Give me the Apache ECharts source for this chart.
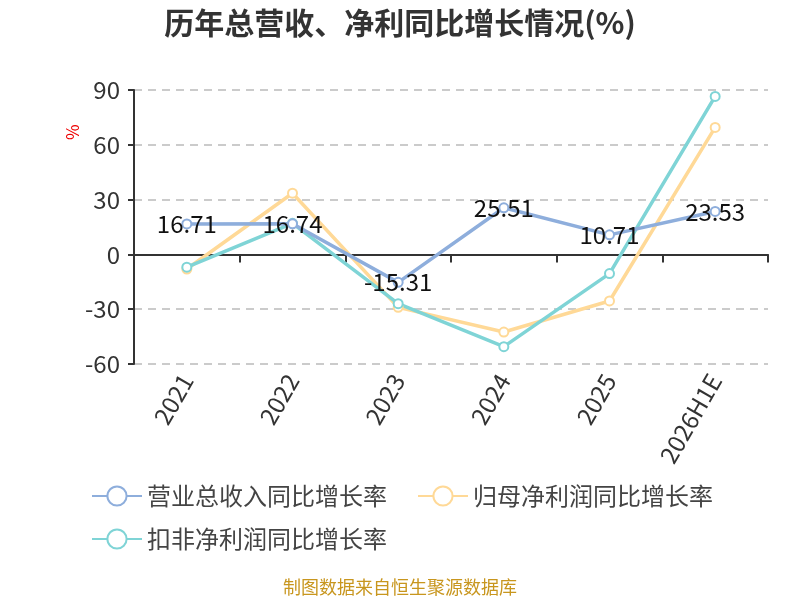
<!DOCTYPE html>
<html>
<head>
<meta charset="utf-8">
<script src="https://cdn.jsdelivr.net/npm/echarts@6/dist/echarts.min.js"></script>
<style>
  html, body { margin: 0; padding: 0; background: #fff; }
  #chart { width: 800px; height: 600px; }
</style>
</head>
<body>
<div id="chart"></div>
<script>
// 年份
var years = ['2021', '2022', '2023', '2024', '2025', '2026H1E'];
// 营业总收入同比增长率
var revenueGrowth = [16.71, 16.74, -15.31, 25.51, 10.71, 23.53];
// 归母净利润同比增长率
var netProfitGrowth = [-8, 33.5, -29, -42.5, -25.5, 69.5];
// 扣非净利润同比增长率
var deductedProfitGrowth = [-7, 17, -27, -50.5, -10.5, 86.5];
var yTicks = { min: -60, max: 90, interval: 30 };

var FONT = '"Noto Sans CJK SC", "Noto Sans", sans-serif';
var myChart = echarts.init(document.getElementById('chart'));

myChart.setOption({
    backgroundColor: '#fff',
    title: {
        text: '历年总营收、净利同比增长情况(%)',
        left: 'center',
        top: 3,
        textStyle: { fontSize: 30, fontWeight: 'bold', color: '#333', fontFamily: FONT }
    },
    graphic: [
        {
            type: 'text',
            left: 'center',
            top: 578,
            style: { text: '制图数据来自恒生聚源数据库', fontSize: 18, fill: '#c8961e', fontFamily: FONT }
        },
        {
            // 纵轴单位
            type: 'text',
            x: 64,
            y: 140,
            rotation: Math.PI / 2,
            style: { text: '%', fontSize: 17, fill: '#e00', fontFamily: FONT }
        }
    ],
    legend: {
        left: 86,
        top: 479,
        width: 660,
        itemWidth: 50,
        itemHeight: 24,
        itemGap: 19,
        textStyle: { fontSize: 24, lineHeight: 24, color: '#444', fontFamily: FONT, padding: [0, 11, 0, 0] },
        data: ['营业总收入同比增长率', '归母净利润同比增长率', '扣非净利润同比增长率']
    },
    grid: { left: 134, right: 32, top: 90, bottom: 236 },
    xAxis: {
        type: 'category',
        data: years,
        boundaryGap: true,
        axisLine: { onZero: true, lineStyle: { color: '#333', width: 2 } },
        axisTick: { show: true, length: 8, lineStyle: { color: '#333', width: 2 } },
        axisLabel: { rotate: 60, fontSize: 24, color: '#333', margin: 12, fontFamily: FONT }
    },
    yAxis: {
        type: 'value',
        min: yTicks.min,
        max: yTicks.max,
        interval: yTicks.interval,
        axisLine: { show: true, lineStyle: { color: '#333', width: 2 } },
        axisTick: { show: true, length: 6, lineStyle: { color: '#333', width: 2 } },
        axisLabel: { fontSize: 24, color: '#333', fontFamily: FONT, margin: 14 },
        splitLine: { lineStyle: { type: [8, 6], color: '#bbb', width: 1.5 } }
    },
    series: [
        {
            name: '营业总收入同比增长率',
            type: 'line',
            data: revenueGrowth,
            symbol: 'emptyCircle',
            symbolSize: 9,
            z: 3,
            itemStyle: { color: '#8eaedc' },
            lineStyle: { width: 3.5, color: '#8eaedc' },
            label: {
                show: true,
                position: 'inside',
                fontSize: 24,
                color: '#111',
                fontFamily: FONT
            }
        },
        {
            name: '归母净利润同比增长率',
            type: 'line',
            data: netProfitGrowth,
            symbol: 'emptyCircle',
            symbolSize: 9,
            z: 2,
            itemStyle: { color: '#ffd997' },
            lineStyle: { width: 3.5, color: '#ffd997' }
        },
        {
            name: '扣非净利润同比增长率',
            type: 'line',
            data: deductedProfitGrowth,
            symbol: 'emptyCircle',
            symbolSize: 9,
            z: 2,
            itemStyle: { color: '#7fd4d6' },
            lineStyle: { width: 3.5, color: '#7fd4d6' }
        }
    ]
});
</script>
</body>
</html>
